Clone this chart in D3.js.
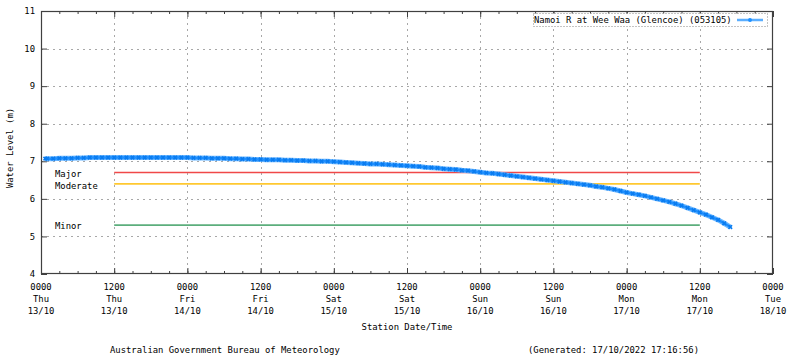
<!DOCTYPE html>
<html><head><meta charset="utf-8">
<script src="https://cdn.jsdelivr.net/npm/d3@7"></script>
<style>
body{margin:0;background:#fff;}
svg text{font-family:"DejaVu Sans Mono","Liberation Mono",monospace;font-size:8.9px;fill:#000;}
</style></head><body>
<svg id="c" width="800" height="358"></svg>
<script>
// ---- data ----
const seriesName = "Namoi R at Wee Waa (Glencoe) (053105)";
const startTime = "2022-10-13T00:00";
const hoursOffset = [0.7,1,2,3,4,5,6,7,8,9,10,11,12,13,14,15,16,17,18,19,20,21,22,23,24,25,26,27,28,29,30,31,32,33,34,35,36,37,38,39,40,41,42,43,44,45,46,47,48,49,50,51,52,53,54,55,56,57,58,59,60,61,62,63,64,65,66,67,68,69,70,71,72,73,74,75,76,77,78,79,80,81,82,83,84,85,86,87,88,89,90,91,92,93,94,95,96,97,98,99,100,101,102,103,104,105,106,107,108,109,110,111,112,113];
const waterLevel = [7.07,7.07,7.07,7.08,7.08,7.08,7.09,7.09,7.10,7.10,7.10,
 7.10,7.10,7.10,7.10,7.10,7.10,7.10,7.10,7.10,7.10,
 7.10,7.10,7.10,7.10,7.09,7.09,7.09,7.08,7.08,7.08,
 7.07,7.07,7.06,7.06,7.05,7.05,7.04,7.04,7.04,7.03,
 7.03,7.02,7.02,7.01,7.01,7.00,7.00,6.99,6.98,6.97,
 6.96,6.95,6.94,6.93,6.93,6.92,6.91,6.90,6.89,6.88,
 6.87,6.86,6.84,6.83,6.82,6.80,6.79,6.78,6.76,6.75,
 6.73,6.71,6.69,6.68,6.66,6.64,6.62,6.60,6.58,6.56,
 6.54,6.52,6.50,6.48,6.46,6.44,6.42,6.40,6.38,6.36,
 6.33,6.31,6.28,6.25,6.21,6.17,6.14,6.11,6.08,6.04,
 6.00,5.96,5.92,5.87,5.82,5.76,5.70,5.64,5.58,5.51,
 5.44,5.35,5.25];
const floodNames = ["Major","Moderate","Minor"];
const floodLevels = [6.7,6.4,5.3];
const floodColors = ["#f04848","#ffc830","#5cae7c"];
const floodStartHour = 12, floodEndHour = 108;
const yTicks = [4,5,6,7,8,9,10,11];
const xTickHours = [0,12,24,36,48,60,72,84,96,108,120];
const xTickLine1 = ["0000","1200","0000","1200","0000","1200","0000","1200","0000","1200","0000"];
const xTickLine2 = ["Thu","Thu","Fri","Fri","Sat","Sat","Sun","Sun","Mon","Mon","Tue"];
const xTickLine3 = ["13/10","13/10","14/10","14/10","15/10","15/10","16/10","16/10","17/10","17/10","18/10"];
const yTitle = "Water Level (m)";
const xTitle = "Station Date/Time";
const footLeft = "Australian Government Bureau of Meteorology";
const footRight = "(Generated: 17/10/2022 17:16:56)";

// ---- layout ----
const svg = d3.select("#c");
const L=41, R=773, T=11, B=274;
const t0 = new Date(startTime);
const hr = h => new Date(t0.getTime()+h*3600e3);
const x = d3.scaleTime().domain([hr(0),hr(120)]).range([L,R]);
const y = d3.scaleLinear().domain([4,11]).range([B,T]);
const blue="#1e8fff";

// grid
const g = svg.append("g");
g.selectAll(".gy").data(yTicks.filter(v=>v>4&&v<11)).join("line")
 .attr("x1",L).attr("x2",R).attr("y1",d=>Math.round(y(d))+0.5).attr("y2",d=>Math.round(y(d))+0.5)
 .attr("stroke","#a8a8a8").attr("stroke-dasharray","2,4").attr("stroke-width",1);
g.selectAll(".gx").data(xTickHours.filter(h=>h>0&&h<120)).join("line")
 .attr("x1",d=>Math.round(x(hr(d)))+0.5).attr("x2",d=>Math.round(x(hr(d)))+0.5).attr("y1",T).attr("y2",B)
 .attr("stroke","#a8a8a8").attr("stroke-dasharray","2,4").attr("stroke-width",1);

// flood lines
floodLevels.forEach((lv,i)=>{
  svg.append("line").attr("x1",x(hr(floodStartHour))).attr("x2",x(hr(floodEndHour)))
   .attr("y1",y(lv)).attr("y2",y(lv)).attr("stroke",floodColors[i]).attr("stroke-width",1.6);
  svg.append("text").attr("x",55).attr("y",y(lv)+(i==1?2:1)).attr("dy","0.35em").text(floodNames[i]);
});

// ticks (axes via d3, mirrored)
const minorHours = d3.range(0,121,3);
const axB = d3.axisBottom(x).tickValues(minorHours.map(hr)).tickSize(-3).tickFormat("");
const axT = d3.axisTop(x).tickValues(minorHours.map(hr)).tickSize(-3).tickFormat("");
const majB = d3.axisBottom(x).tickValues(xTickHours.map(hr)).tickSize(-6).tickFormat("");
const majT = d3.axisTop(x).tickValues(xTickHours.map(hr)).tickSize(-6).tickFormat("");
const axL = d3.axisLeft(y).tickValues(yTicks).tickSize(-6).tickFormat("");
const axR = d3.axisRight(y).tickValues(yTicks).tickSize(-6).tickFormat("");
[[axB,`translate(0,${B})`],[majB,`translate(0,${B})`],[axT,`translate(0,${T})`],[majT,`translate(0,${T})`],[axL,`translate(${L},0)`],[axR,`translate(${R},0)`]].forEach(([a,tr])=>{
  const s=svg.append("g").attr("transform",tr).call(a);
  s.select(".domain").remove();
  s.selectAll("line").attr("stroke","#404040");
});
svg.append("rect").attr("x",L+0.5).attr("y",T+0.5).attr("width",R-L-1).attr("height",B-T-1)
 .attr("fill","none").attr("stroke","#404040").attr("stroke-width",1.2);

// y labels
svg.selectAll(".yl").data(yTicks).join("text").attr("x",35).attr("y",d=>y(d)).attr("dy","0.35em")
 .attr("text-anchor","end").text(d=>d);
// x labels
xTickHours.forEach((h,i)=>{
  const xx=x(hr(h));
  [xTickLine1,xTickLine2,xTickLine3].forEach((arr,j)=>{
    svg.append("text").attr("x",xx).attr("y",287+j*12).attr("dy","0.35em").attr("text-anchor","middle").text(arr[i]);
  });
});
svg.append("text").attr("x",(L+R)/2).attr("y",327).attr("dy","0.35em").attr("text-anchor","middle").text(xTitle);
svg.append("text").attr("transform","translate(10,148) rotate(-90)").attr("dy","0.35em").attr("text-anchor","middle").text(yTitle);
svg.append("text").attr("x",110).attr("y",350).attr("dy","0.35em").text(footLeft);
svg.append("text").attr("x",528).attr("y",350).attr("dy","0.35em").text(footRight);

// series
const data = hoursOffset.map((h,i)=>({t:hr(h),v:waterLevel[i]}));
svg.append("path").datum(data).attr("fill","none").attr("stroke","#5aaeff").attr("stroke-width",5)
 .attr("stroke-opacity",0.9)
 .attr("d",d3.line().x(d=>x(d.t)).y(d=>y(d.v)));
svg.append("path").datum(data).attr("fill","none").attr("stroke",blue).attr("stroke-width",2.5)
 .attr("d",d3.line().x(d=>x(d.t)).y(d=>y(d.v)));
const sym = d3.symbol().type(d3.symbolCross).size(14);
svg.selectAll(".pt").data(data).join("path").attr("transform",d=>`translate(${x(d.t)},${y(d.v)}) rotate(45)`)
 .attr("d",sym).attr("fill","#0a7cf0");

// legend
svg.append("rect").attr("x",533.5).attr("y",13.5).attr("width",234).attr("height",13)
 .attr("fill","#fff").attr("stroke","#888").attr("stroke-dasharray","1,2");
svg.append("text").attr("x",534).attr("y",20).attr("dy","0.35em").text(seriesName);
svg.append("line").attr("x1",737).attr("x2",763).attr("y1",20).attr("y2",20).attr("stroke","#5aaeff").attr("stroke-width",2.5);
svg.append("path").attr("transform","translate(750,20)").attr("d",d3.symbol().type(d3.symbolCircle).size(12)).attr("fill",blue);
</script></body></html>
